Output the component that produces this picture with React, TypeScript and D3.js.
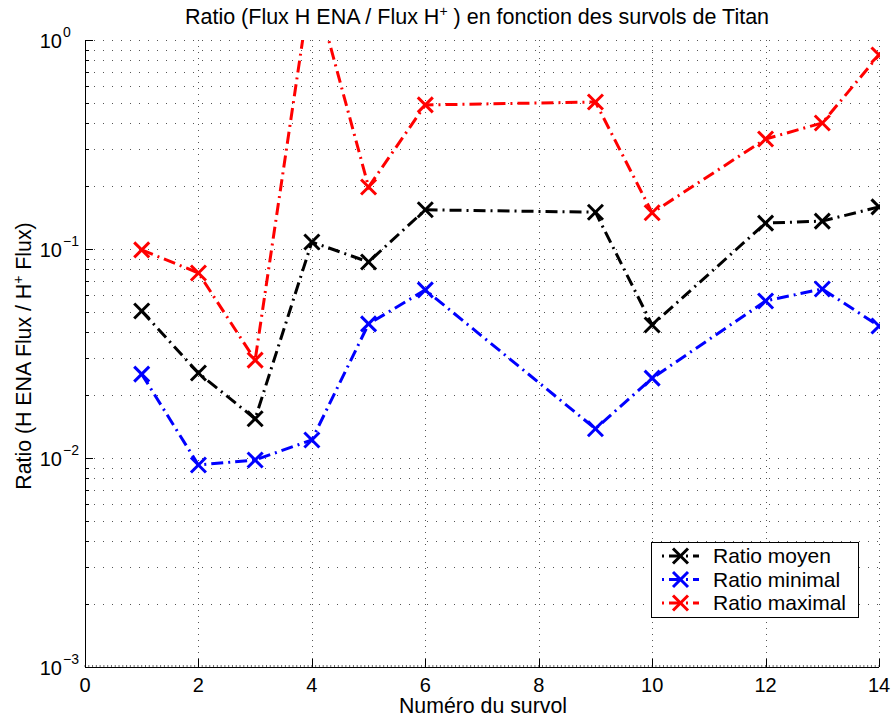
import React from "react";
import * as d3 from "d3";

const surveys = [1, 2, 3, 4, 5, 6, 9, 10, 12, 13, 14];
const ratioMoyen = [0.0505, 0.0255, 0.0154, 0.108, 0.0867, 0.154, 0.15, 0.0433, 0.133, 0.136, 0.159];
const ratioMinimal = [0.0252, 0.00926, 0.00978, 0.0122, 0.0438, 0.0637, 0.0138, 0.0241, 0.0564, 0.0644, 0.0428];
const ratioMaximal = [0.099, 0.0768, 0.0294, 1.98, 0.198, 0.489, 0.505, 0.149, 0.336, 0.401, 0.848];
const seriesNames = ["Ratio moyen", "Ratio minimal", "Ratio maximal"];
const seriesColors = ["#000000", "#0000ff", "#ff0000"];
const xTicks = [0, 2, 4, 6, 8, 10, 12, 14];
const yDecades = [-3, -2, -1, 0];

const W = 893, H = 720;
const L = 85, R = 879, T = 40, B = 667;
const FONT = "'Liberation Sans', Arial, Helvetica, sans-serif";

export default function App() {
  const x = d3.scaleLinear().domain([0, 14]).range([L, R]);
  const y = d3.scaleLog().domain([1e-3, 1]).range([B, T]);
  const allSeries = [ratioMoyen, ratioMinimal, ratioMaximal];
  const line = d3.line<[number, number]>().x(d => x(d[0])).y(d => y(d[1]));

  const minorY: number[] = [];
  for (let e = -3; e < 0; e++) for (let k = 1; k <= 9; k++) minorY.push(k * Math.pow(10, e));
  minorY.push(1);

  const minorX: number[] = [];
  for (let i = 0; i <= 14 * 15; i++) minorX.push(i / 15);

  const dash = "12,5,2,5";
  const mk = 7.5;
  const cross = (cx: number, cy: number, color: string, key: string) => (
    <g key={key} stroke={color} strokeWidth={3}>
      <line x1={cx - mk} y1={cy - mk} x2={cx + mk} y2={cy + mk} />
      <line x1={cx - mk} y1={cy + mk} x2={cx + mk} y2={cy - mk} />
    </g>
  );

  return (
    <svg width={W} height={H} style={{ position: "absolute", left: 0, top: 0, background: "#fff" }} fontFamily={FONT}>
      <defs>
        <clipPath id="plotclip">
          <rect x={L} y={T} width={R - L + 1} height={B - T} />
        </clipPath>
      </defs>
      <rect x={0} y={0} width={W} height={H} fill="#fff" />
      {/* grid */}
      <g stroke="#555" strokeWidth={1}>
        {minorY.filter(v => v > 1e-3).map((v, i) => (
          <line key={"gy" + i} x1={L} x2={R} y1={Math.round(y(v)) + 0.5} y2={Math.round(y(v)) + 0.5} strokeDasharray="1,8" />
        ))}
        {xTicks.filter(v => v > 0).map((v, i) => (
          <line key={"gx" + i} x1={Math.round(x(v)) + 0.5} x2={Math.round(x(v)) + 0.5} y1={T} y2={B} strokeDasharray="1,5" />
        ))}
      </g>
      {/* series lines */}
      <g clipPath="url(#plotclip)">
        {allSeries.map((s, si) => (
          <path key={"l" + si} d={line(surveys.map((sv, i) => [sv, s[i]] as [number, number])) || ""}
            fill="none" stroke={seriesColors[si]} strokeWidth={3} strokeDasharray={dash} />
        ))}
        {allSeries.map((s, si) => (
          <g key={"m" + si}>{surveys.map((sv, i) => cross(x(sv), y(s[i]), seriesColors[si], `c${si}-${i}`))}</g>
        ))}
      </g>
      {/* axes */}
      <g stroke="#000" strokeWidth={1}>
        <line x1={L + 0.5} x2={L + 0.5} y1={T} y2={B} />
        <line x1={L} x2={R} y1={B + 0.5} y2={B + 0.5} />
        {minorY.map((v, i) => {
          const yy = Math.round(y(v)) + 0.5;
          const major = Number.isInteger(Math.round(Math.log10(v) * 1000) / 1000);
          return <line key={"ty" + i} x1={L} x2={L + (major ? 8 : 4)} y1={yy} y2={yy} />;
        })}
        {minorX.map((v, i) => (
          <line key={"mx" + i} x1={x(v)} x2={x(v)} y1={B} y2={B - 2} strokeWidth={0.6} />
        ))}
        {xTicks.map((v, i) => (
          <line key={"tx" + i} x1={Math.round(x(v)) + 0.5} x2={Math.round(x(v)) + 0.5} y1={B} y2={B - 8} />
        ))}
      </g>
      {/* tick labels */}
      <g fontSize={20} fill="#000">
        {xTicks.map((v, i) => (
          <text key={"xl" + i} x={x(v)} y={B + 25} textAnchor="middle">{v}</text>
        ))}
        {yDecades.map((e, i) => (
          <g key={"yl" + i}>
            <text x={62} y={y(Math.pow(10, e)) + 8} textAnchor="end">10</text>
            <text x={63} y={y(Math.pow(10, e)) - 3} fontSize={14}>{e === 0 ? "0" : "\u2212" + Math.abs(e)}</text>
          </g>
        ))}
      </g>
      {/* title */}
      <text x={477} y={24} textAnchor="middle" fontSize={21.5}>
        Ratio (Flux H ENA / Flux H<tspan dy={-8} fontSize={14}>+</tspan><tspan dy={8}> ) en fonction des survols de Titan</tspan>
      </text>
      {/* x label */}
      <text x={483} y={713} textAnchor="middle" fontSize={21.3}>Numéro du survol</text>
      {/* y label */}
      <text transform={`translate(31, 356) rotate(-90)`} textAnchor="middle" fontSize={21.3}>
        Ratio (H ENA Flux / H<tspan dy={-8} fontSize={14}>+</tspan><tspan dy={8}> Flux)</tspan>
      </text>
      {/* legend */}
      <g>
        <rect x={651.5} y={542.5} width={207} height={75} fill="#fff" stroke="#000" strokeWidth={1} />
        {seriesNames.map((n, i) => {
          const ry = 556 + i * 23.5;
          return (
            <g key={"lg" + i}>
              <line x1={662} x2={699} y1={ry} y2={ry} stroke={seriesColors[i]} strokeWidth={3} strokeDasharray="2,5,12,5" />
              {cross(680.5, ry, seriesColors[i], "lgc" + i)}
              <text x={713} y={ry + 7} fontSize={21}>{n}</text>
            </g>
          );
        })}
      </g>
    </svg>
  );
}
